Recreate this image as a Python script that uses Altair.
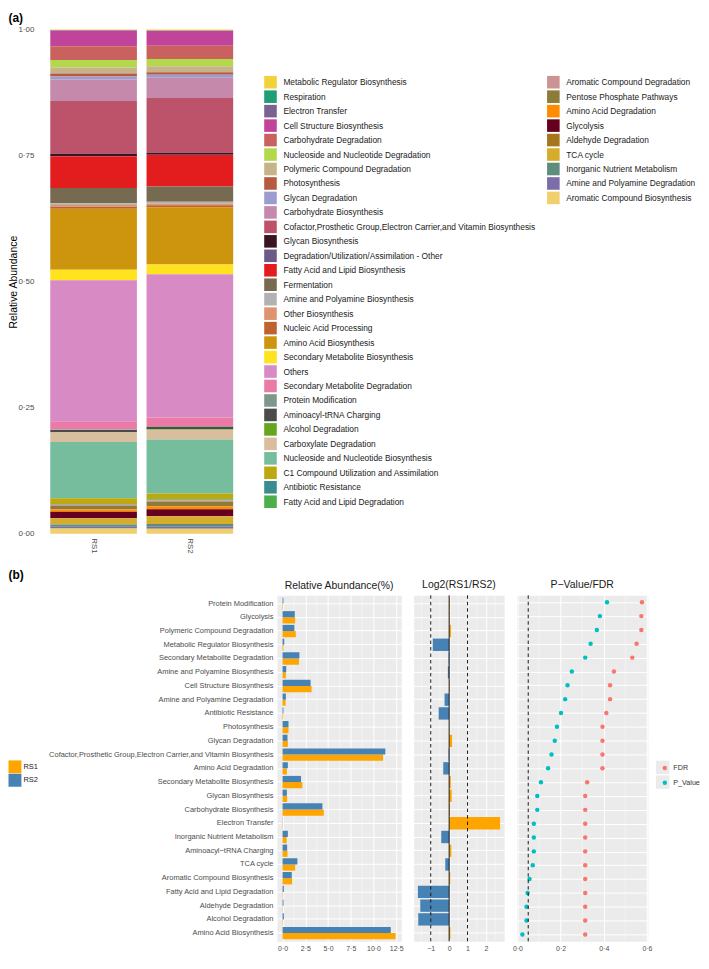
import altair as alt
import pandas as pd

FONT = "Liberation Sans"
GREY_TXT = "#4D4D4D"
PANEL_BG = "#EBEBEB"

# ---------------- panel (a) data ----------------
pathways_a = [
    "Metabolic Regulator Biosynthesis", "Respiration", "Electron Transfer",
    "Cell Structure Biosynthesis", "Carbohydrate Degradation",
    "Nucleoside and Nucleotide Degradation", "Polymeric Compound Degradation",
    "Photosynthesis", "Glycan Degradation", "Carbohydrate Biosynthesis",
    "Cofactor,Prosthetic Group,Electron Carrier,and Vitamin Biosynthesis",
    "Glycan Biosynthesis", "Degradation/Utilization/Assimilation - Other",
    "Fatty Acid and Lipid Biosynthesis", "Fermentation",
    "Amine and Polyamine Biosynthesis", "Other Biosynthesis",
    "Nucleic Acid Processing", "Amino Acid Biosynthesis",
    "Secondary Metabolite Biosynthesis", "Others",
    "Secondary Metabolite Degradation", "Protein Modification",
    "Aminoacyl-tRNA Charging", "Alcohol Degradation", "Carboxylate Degradation",
    "Nucleoside and Nucleotide Biosynthesis",
    "C1 Compound Utilization and Assimilation", "Antibiotic Resistance",
    "Fatty Acid and Lipid Degradation", "Aromatic Compound Degradation",
    "Pentose Phosphate Pathways", "Amino Acid Degradation", "Glycolysis",
    "Aldehyde Degradation", "TCA cycle", "Inorganic Nutrient Metabolism",
    "Amine and Polyamine Degradation", "Aromatic Compound Biosynthesis",
]
colours_a = [
    "#F2D13A", "#1F9E78", "#7A6390", "#C0449A", "#C9615E", "#B3D84B", "#C6B38A",
    "#B65C3E", "#9D9CD0", "#C58AAB", "#BD536B", "#3A1422", "#6C5B89", "#E31C1E",
    "#766A50", "#B2B2B2", "#DE946E", "#C0622F", "#CC950D", "#FFE31E", "#D78AC4",
    "#E97BA6", "#7E978B", "#4B4B4B", "#66A61E", "#D8BE9C", "#75BD9C", "#BCA80F",
    "#3A8D8E", "#4DAE4A", "#CC9393", "#8C7C38", "#FF8C00", "#67001F", "#A6761D",
    "#D6AD2B", "#5F8D7C", "#7C6CAA", "#F1CF6C",
]
rs1_a = [0.10, 0.05, 0.02, 3.13, 2.74, 1.50, 1.17, 0.59, 0.59, 4.30, 10.45, 0.46,
         0.06, 6.30, 3.00, 0.36, 0.33, 0.40, 12.10, 2.10, 28.00, 1.60, 0.10, 0.45,
         0.05, 1.90, 11.15, 1.17, 0.07, 0.05, 0.28, 0.65, 0.47, 1.30, 0.03, 1.20,
         0.45, 0.33, 1.05]
rs2_a = [0.18, 0.05, 0.02, 2.94, 2.67, 1.43, 1.17, 0.52, 0.59, 4.04, 10.90, 0.40,
         0.06, 6.26, 3.00, 0.40, 0.33, 0.40, 11.35, 1.96, 28.50, 1.75, 0.10, 0.45,
         0.14, 1.96, 10.70, 1.17, 0.10, 0.14, 0.30, 0.85, 0.58, 1.34, 0.10, 1.50,
         0.58, 0.36, 1.00]
n_left = 30
y_ticks_a = [0, 0.25, 0.5, 0.75, 1.0]

# ---------------- panel (b) data ----------------
pathways_b = [
    "Protein Modification", "Glycolysis", "Polymeric Compound Degradation",
    "Metabolic Regulator Biosynthesis", "Secondary Metabolite Degradation",
    "Amine and Polyamine Biosynthesis", "Cell Structure Biosynthesis",
    "Amine and Polyamine Degradation", "Antibiotic Resistance", "Photosynthesis",
    "Glycan Degradation",
    "Cofactor,Prosthetic Group,Electron Carrier,and Vitamin Biosynthesis",
    "Amino Acid Degradation", "Secondary Metabolite Biosynthesis",
    "Glycan Biosynthesis", "Carbohydrate Biosynthesis", "Electron Transfer",
    "Inorganic Nutrient Metabolism", "Aminoacyl\u2212tRNA Charging", "TCA cycle",
    "Aromatic Compound Biosynthesis", "Fatty Acid and Lipid Degradation",
    "Aldehyde Degradation", "Alcohol Degradation", "Amino Acid Biosynthesis",
]
abund_rs1 = [0.05, 1.38, 1.45, 0.10, 1.81, 0.36, 3.19, 0.33, 0.07, 0.65, 0.58,
             11.05, 0.47, 2.17, 0.50, 4.53, 0.03, 0.45, 0.54, 1.38, 1.05, 0.04,
             0.03, 0.04, 12.43]
abund_rs2 = [0.10, 1.34, 1.30, 0.18, 1.85, 0.40, 3.08, 0.36, 0.10, 0.65, 0.54,
             11.30, 0.58, 2.03, 0.47, 4.38, 0.02, 0.58, 0.50, 1.63, 1.01, 0.14,
             0.10, 0.14, 11.90]
log2_ratio = [0.04, 0.03, 0.10, -0.89, -0.03, -0.07, 0.03, -0.25, -0.57, 0.01,
              0.16, -0.03, -0.32, 0.09, 0.14, 0.05, 2.77, -0.43, 0.12, -0.21,
              0.06, -1.70, -1.57, -1.68, 0.07]
p_value = [0.415, 0.382, 0.368, 0.339, 0.314, 0.252, 0.232, 0.221, 0.202, 0.183,
           0.173, 0.158, 0.142, 0.109, 0.092, 0.092, 0.076, 0.076, 0.076, 0.071,
           0.056, 0.047, 0.042, 0.042, 0.023]
fdr_value = [0.577, 0.574, 0.574, 0.552, 0.532, 0.447, 0.429, 0.429, 0.412, 0.394,
             0.394, 0.394, 0.394, 0.323, 0.314, 0.314, 0.314, 0.314, 0.314, 0.314,
             0.314, 0.314, 0.314, 0.314, 0.314]

samples = ["RS1", "RS2"]
sample_colours = ["#FFA500", "#4682B4"]
stat_names = ["FDR", "P_Value"]
stat_colours = ["#F8766D", "#00BFC4"]
x_ticks_abund = [0, 2.5, 5, 7.5, 10, 12.5]
x_minor_abund = [1.25, 3.75, 6.25, 8.75, 11.25]
x_ticks_log2 = [-1, 0, 1, 2, 3]
x_minor_log2 = [-1.5, -0.5, 0.5, 1.5, 2.5]
x_ticks_p = [0, 0.2, 0.4, 0.6]
x_minor_p = [0.1, 0.3, 0.5]
log2_cutoffs = [-1, 1]
p_cutoff = [0.05]
panel_tags = ["(a)", "(b)"]


def dot_fmt(d):
    return f"replace(format(datum.value, '.{d}f'), '.', '\u00b7')"


def tag_text(tag, dy):
    return alt.Chart(pd.DataFrame({"t": [tag]})).mark_text(
        align="left", baseline="top", fontSize=12, fontWeight="bold", color="#000000"
    ).encode(text="t:N", x=alt.value(-27.5), y=alt.value(dy))


# ================= panel (a) =================
PANEL_A_H = 507
n_a = len(pathways_a)
df_a = pd.DataFrame({
    "pathway": pathways_a * 2,
    "sample": ["RS1"] * n_a + ["RS2"] * n_a,
    "value": rs1_a + rs2_a,
    "order": list(range(n_a)) * 2,
    "group": (["L"] * n_left + ["R"] * (n_a - n_left)) * 2,
})
sample_js = "[" + ",".join(f"'{s}'" for s in samples) + "]"

base_a = alt.Chart(df_a).transform_stack(
    stack="value", groupby=["sample"], as_=["y0", "y1"], offset="normalize",
    sort=[alt.SortField("order", order="descending")],
).transform_calculate(
    xpos=f"indexof({sample_js}, datum.sample) + 1"
).transform_calculate(
    x0="datum.xpos - 0.45", x1="datum.xpos + 0.45"
)

x_a = alt.X("x0:Q", title=None,
            scale=alt.Scale(domain=[0.4, len(samples) + 0.6], nice=False, zero=False),
            axis=alt.Axis(values=list(range(1, len(samples) + 1)),
                          labelExpr=f"{sample_js}[datum.value - 1]",
                          labelAngle=90, labelFontSize=8, labelColor=GREY_TXT,
                          ticks=False, domain=False, grid=False, labelPadding=4,
                          labelFlush=False))
y_a = alt.Y("y0:Q", title="Relative Abundance",
            scale=alt.Scale(domain=[0, 1], nice=False, zero=False),
            axis=alt.Axis(values=y_ticks_a, labelExpr=dot_fmt(2), grid=False,
                          ticks=False, domain=False, labelFontSize=8,
                          labelColor=GREY_TXT, labelPadding=2, titleFontSize=10.5,
                          titleFontWeight="normal", titleColor="#000000",
                          titlePadding=-1, labelFlush=False))


def legend_a(x):
    return alt.Legend(title=None, orient="none", legendX=x, legendY=46.4,
                      symbolType="square", symbolSize=160, symbolStrokeWidth=0,
                      symbolOpacity=1, labelFontSize=8.4, labelColor="#1A1A1A",
                      labelOffset=6.5, labelLimit=500, rowPadding=1.55, padding=0)


bars_left = base_a.transform_filter(alt.datum.group == "L").mark_bar().encode(
    x=x_a, x2="x1:Q", y=y_a, y2="y1:Q",
    fill=alt.Fill("pathway:N",
                  scale=alt.Scale(domain=pathways_a[:n_left], range=colours_a[:n_left]),
                  legend=legend_a(229.5)),
)
bars_right = base_a.transform_filter(alt.datum.group == "R").mark_bar().encode(
    x=x_a, x2="x1:Q", y=y_a, y2="y1:Q",
    fill=alt.Fill("pathway:N",
                  scale=alt.Scale(domain=pathways_a[n_left:], range=colours_a[n_left:]),
                  legend=legend_a(514)),
)
panel_a = alt.layer(bars_left, bars_right, tag_text(panel_tags[0], -17)).resolve_scale(
    fill="independent").properties(width=213, height=PANEL_A_H)

# ================= panel (b) =================
PANEL_B_H = 348
n_b = len(pathways_b)
df_abund = pd.DataFrame({
    "pathway": pathways_b * 2,
    "sample": ["RS1"] * n_b + ["RS2"] * n_b,
    "abund": abund_rs1 + abund_rs2,
})
df_log = pd.DataFrame({
    "pathway": pathways_b,
    "log2": log2_ratio,
    "dir": ["RS1" if v >= 0 else "RS2" for v in log2_ratio],
})
df_stat = pd.DataFrame({
    "pathway": pathways_b * 2,
    "stat": ["FDR"] * n_b + ["P_Value"] * n_b,
    "val": fdr_value + p_value,
})


def y_b(labels):
    return alt.Y("pathway:N", sort=pathways_b, title=None,
                 scale=alt.Scale(paddingInner=0.1, paddingOuter=0.15),
                 axis=alt.Axis(labels=labels, ticks=False, domain=False, grid=True,
                               gridColor="white", gridWidth=1, labelFontSize=7.5,
                               labelColor=GREY_TXT, labelPadding=4, labelLimit=400))


def x_axis(vals, expr):
    return alt.Axis(values=vals, labelExpr=expr, ticks=False, domain=False,
                    grid=True, gridColor="white", gridWidth=1, labelFontSize=7,
                    labelColor=GREY_TXT, labelPadding=3, title=None,
                    labelOverlap=False, labelFlush=False)


def minor_rules(vals, axis):
    return alt.Chart(pd.DataFrame({"v": vals})).mark_rule(
        color="white", strokeWidth=0.5, opacity=0.8).encode(
        x=alt.X("v:Q", axis=axis))


view_b = alt.ViewBackground(fill=PANEL_BG, stroke="transparent")


def title_b(text):
    return alt.TitleParams(text, fontSize=10.5, fontWeight="normal", color="#1A1A1A",
                           offset=4, anchor="middle")


sample_scale = alt.Scale(domain=samples, range=sample_colours)

# --- legend holder for RS1 / RS2 and the (b) tag (left side of panel b) ---
rs_legend = alt.Chart(df_abund).mark_square(opacity=0, size=1).encode(
    color=alt.Color("sample:N", scale=sample_scale,
                    legend=alt.Legend(title=None, orient="none", legendX=-27.5,
                                      legendY=166, symbolType="square",
                                      symbolSize=169, symbolStrokeWidth=0,
                                      symbolOpacity=1, labelFontSize=7.5,
                                      labelColor="#1A1A1A", labelOffset=2,
                                      rowPadding=0.5, padding=0)),
)
rs_legend_holder = alt.layer(rs_legend, tag_text(panel_tags[1], -25)).properties(
    width=1, height=PANEL_B_H)

# --- relative abundance ---
ax_abund = x_axis(x_ticks_abund, dot_fmt(1))
abund_bars = alt.Chart(df_abund).mark_bar().encode(
    y=y_b(True),
    x=alt.X("abund:Q", stack=None,
            scale=alt.Scale(domain=[-0.62, 13.05], nice=False, zero=False),
            axis=ax_abund),
    x2=alt.datum(0),
    yOffset=alt.YOffset("sample:N", sort=["RS2", "RS1"],
                        scale=alt.Scale(paddingInner=0, paddingOuter=0)),
    color=alt.Color("sample:N", scale=sample_scale, legend=None),
)
abund_chart = alt.layer(minor_rules(x_minor_abund, ax_abund), abund_bars).properties(
    width=125, height=PANEL_B_H, view=view_b, title=title_b("Relative Abundance(%)"))

# --- log2 ratio ---
ax_log = x_axis(x_ticks_log2, "format(datum.value, 'd')")
log_bars = alt.Chart(df_log).mark_bar().encode(
    y=y_b(False),
    x=alt.X("log2:Q", stack=None,
            scale=alt.Scale(domain=[-1.93, 2.99], nice=False, zero=False),
            axis=ax_log),
    x2=alt.datum(0),
    color=alt.Color("dir:N", scale=sample_scale, legend=None),
)
log_cut = alt.Chart(pd.DataFrame({"v": log2_cutoffs})).mark_rule(
    color="#1A1A1A", strokeDash=[3.5, 3], strokeWidth=1).encode(x=alt.X("v:Q", axis=ax_log))
log_zero = alt.Chart(pd.DataFrame({"v": [0]})).mark_rule(
    color="#1A1A1A", strokeWidth=1).encode(x=alt.X("v:Q", axis=ax_log))
log_chart = alt.layer(minor_rules(x_minor_log2, ax_log), log_bars, log_cut, log_zero).properties(
    width=91, height=PANEL_B_H, view=view_b, title=title_b("Log2(RS1/RS2)"))

# --- p value / FDR ---
ax_p = x_axis(x_ticks_p, dot_fmt(1))
y_stat = y_b(False)
x_stat = alt.X("val:Q", scale=alt.Scale(domain=[-0.004, 0.604], nice=False, zero=False),
               axis=ax_p)
stat_keys = alt.Chart(df_stat).mark_square(opacity=0).encode(
    y=y_stat, x=x_stat,
    fill=alt.Fill("stat:N", scale=alt.Scale(domain=stat_names, range=[PANEL_BG, PANEL_BG]),
                  legend=alt.Legend(title=None, orient="none", legendX=140, legendY=166,
                                    symbolType="square", symbolSize=182,
                                    symbolStrokeWidth=0, symbolOpacity=1,
                                    labelExpr="''", rowPadding=0.8, padding=0,
                                    zindex=0)),
)
stat_points = alt.Chart(df_stat).mark_circle(size=20, opacity=1).encode(
    y=y_stat, x=x_stat,
    color=alt.Color("stat:N", scale=alt.Scale(domain=stat_names, range=stat_colours),
                    legend=alt.Legend(title=None, orient="none", legendX=145.5,
                                      legendY=170, symbolType="circle", symbolSize=20,
                                      symbolStrokeWidth=0, symbolOpacity=1,
                                      labelFontSize=7.2, labelColor="#333333",
                                      labelOffset=5, rowPadding=6.8, padding=0,
                                      zindex=1)),
)
p_cut = alt.Chart(pd.DataFrame({"v": p_cutoff})).mark_rule(
    color="#1A1A1A", strokeDash=[3.5, 3], strokeWidth=1).encode(x=alt.X("v:Q", axis=ax_p))
p_chart = alt.layer(minor_rules(x_minor_p, ax_p), stat_keys, stat_points, p_cut).resolve_scale(
    fill="independent").properties(
    width=132, height=PANEL_B_H, view=view_b, title=title_b("P\u2212Value/FDR"))

panels_b = alt.hconcat(abund_chart, log_chart, p_chart, spacing=12.5,
                       bounds="flush").resolve_scale(color="independent",
                                                     fill="independent")
panel_b = alt.hconcat(rs_legend_holder, panels_b, spacing=241.5,
                      bounds="flush").resolve_scale(color="independent",
                                                    fill="independent")

chart = alt.concat(panel_a, panel_b, columns=1, spacing=14).resolve_scale(
    color="independent", fill="independent").properties(
    padding={"left": 0, "top": 0, "right": 0, "bottom": 0}
).configure(font=FONT).configure_view(stroke="transparent")

chart.save("out.html", embed_options={"renderer": "svg", "actions": False})
